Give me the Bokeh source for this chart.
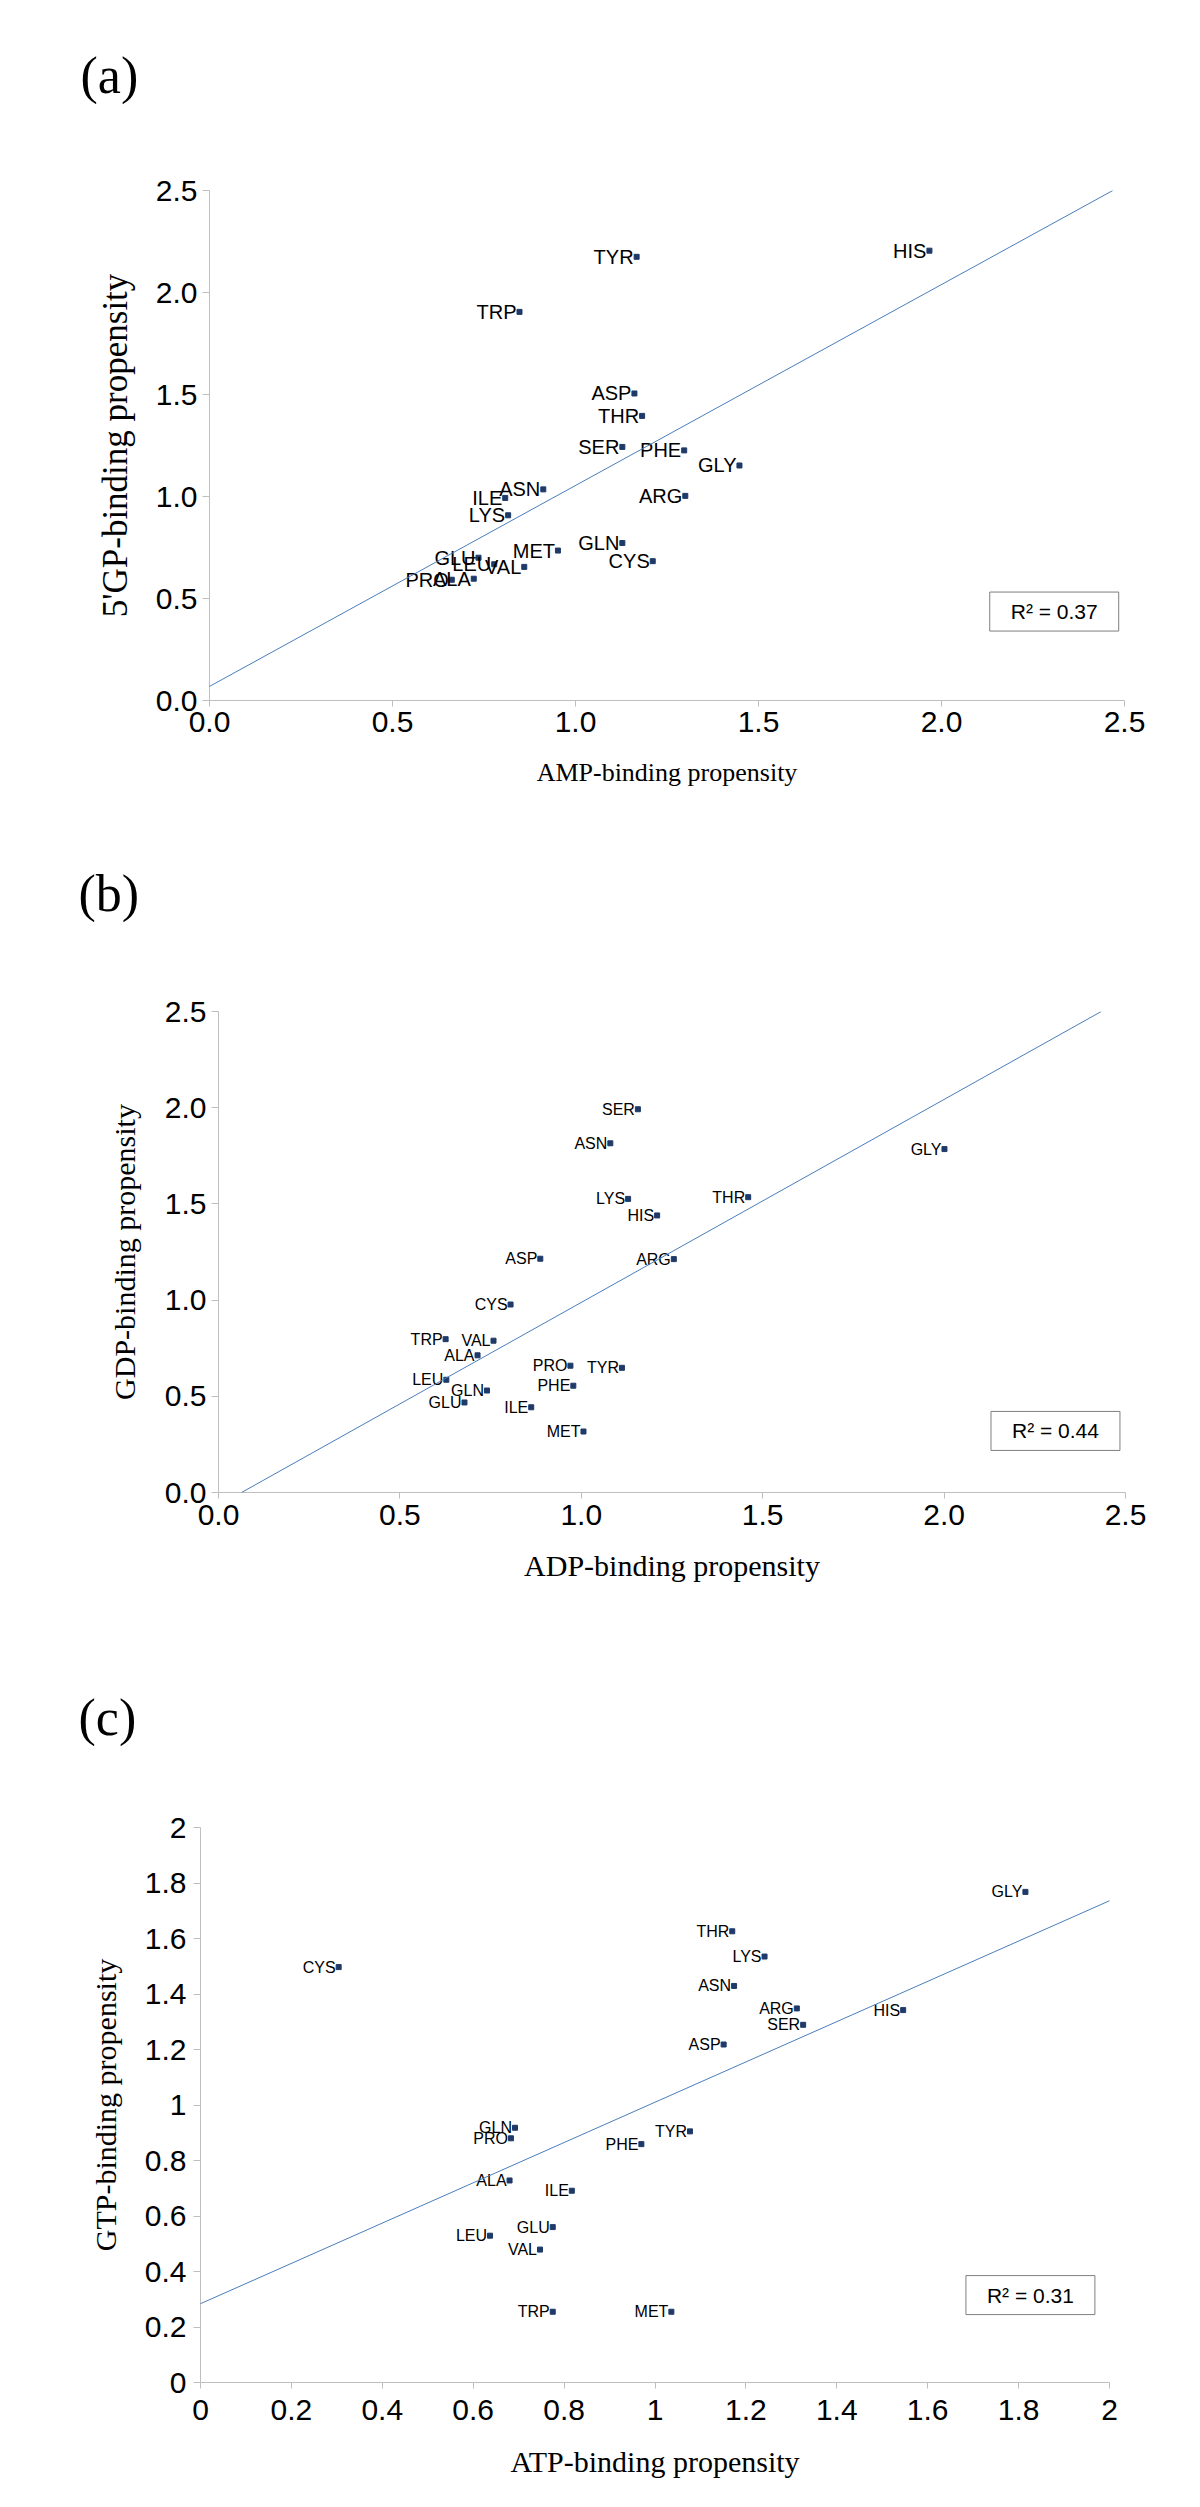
from bokeh.plotting import figure
from bokeh.layouts import column
from bokeh.models import Label, Slope, FixedTicker, NumeralTickFormatter, ColumnDataSource, Range1d
from bokeh.core.properties import value
from bokeh.embed import file_html
from bokeh.resources import INLINE

# ---------------- data ----------------
amino = ["ALA", "ARG", "ASN", "ASP", "CYS", "GLN", "GLU", "GLY", "HIS", "ILE",
         "LEU", "LYS", "MET", "PHE", "PRO", "SER", "THR", "TRP", "TYR", "VAL"]

# (a) AMP vs 5'GP
amp = [0.722, 1.300, 0.912, 1.161, 1.211, 1.128, 0.735, 1.448, 1.967, 0.808,
       0.778, 0.816, 0.952, 1.297, 0.662, 1.128, 1.182, 0.847, 1.167, 0.860]
gp5 = [0.597, 1.003, 1.035, 1.505, 0.683, 0.772, 0.700, 1.152, 2.205, 0.993,
       0.668, 0.908, 0.735, 1.226, 0.592, 1.243, 1.395, 1.905, 2.175, 0.655]

# (b) ADP vs GDP
adp = [0.714, 1.255, 1.080, 0.887, 0.805, 0.740, 0.678, 2.001, 1.209, 0.862,
       0.628, 1.129, 1.006, 0.978, 0.970, 1.156, 1.460, 0.626, 1.112, 0.758]
gdp = [0.713, 1.213, 1.815, 1.215, 0.977, 0.530, 0.468, 1.785, 1.440, 0.443,
       0.586, 1.526, 0.317, 0.555, 0.659, 1.992, 1.535, 0.797, 0.648, 0.789]

# (c) ATP vs GTP
atp = [0.680, 1.312, 1.174, 1.151, 0.304, 0.692, 0.775, 1.815, 1.546, 0.817,
       0.637, 1.241, 1.036, 0.970, 0.683, 1.326, 1.170, 0.775, 1.077, 0.747]
gtp = [0.728, 1.348, 1.429, 1.218, 1.497, 0.918, 0.560, 1.768, 1.342, 0.691,
       0.529, 1.535, 0.255, 0.859, 0.880, 1.289, 1.626, 0.255, 0.905, 0.479]

# trend lines (slope, intercept) and R² as printed
trend_a = (0.985, 0.069)
trend_b = (1.055, -0.067)
trend_c = (0.726, 0.284)
r2_a = "R² = 0.37"
r2_b = "R² = 0.44"
r2_c = "R² = 0.31"

ticks_ab = [0.0, 0.5, 1.0, 1.5, 2.0, 2.5]
ticks_c = [0, 0.2, 0.4, 0.6, 0.8, 1.0, 1.2, 1.4, 1.6, 1.8, 2.0]

MARK = "#1F3A68"
LINE = "#4A7EBB"
AXIS = "#BFBFBF"


def header(tag, h, tx, ty):
    p = figure(width=1184, height=h, output_backend="svg", toolbar_location=None,
               x_range=Range1d(0, 1), y_range=Range1d(0, 1), title=None,
               x_axis_type=None, y_axis_type=None, min_border=0, frame_align=False)
    p.outline_line_color = None
    p.grid.visible = False
    p.add_layout(Label(x=tx, y=ty, x_units="screen", y_units="screen", text=tag,
                       text_font="Liberation Serif", text_font_size="52px",
                       text_baseline="alphabetic", text_align="left", text_color="black"))
    return p


def panel(x, y, xlab, ylab, r2, trend, ticks, xmax, fmt, cfg):
    p = figure(frame_width=cfg["fw"], frame_height=cfg["fh"], output_backend="svg",
               toolbar_location=None, title=None, frame_align=False,
               x_range=Range1d(0, xmax), y_range=Range1d(0, xmax),
               min_border_left=cfg["bl"], min_border_right=cfg["br"],
               min_border_top=cfg["bt"], min_border_bottom=cfg["bb"])
    p.outline_line_color = None
    p.grid.visible = False
    p.background_fill_color = "white"
    p.border_fill_color = "white"

    for ax, tout, lstand, tstand, tsize in (
        (p.xaxis[0], 6, cfg["xls"], cfg["xts"], cfg["xtf"]),
        (p.yaxis[0], 7, cfg["yls"], cfg["yts"], cfg["ytf"]),
    ):
        ax.ticker = FixedTicker(ticks=ticks)
        ax.formatter = NumeralTickFormatter(format=fmt)
        ax.axis_line_color = AXIS
        ax.major_tick_line_color = AXIS
        ax.major_tick_out = tout
        ax.major_tick_in = 0
        ax.minor_tick_line_color = None
        ax.major_label_text_font = "Liberation Sans"
        ax.major_label_text_font_size = "30px"
        ax.major_label_text_color = "black"
        ax.major_label_standoff = lstand
        ax.axis_label_text_font = "Liberation Serif"
        ax.axis_label_text_font_style = "normal"
        ax.axis_label_text_font_size = tsize
        ax.axis_label_text_color = "black"
        ax.axis_label_standoff = tstand
    p.xaxis.axis_label = xlab
    p.yaxis.axis_label = ylab

    p.add_layout(Slope(gradient=trend[0], y_intercept=trend[1],
                       line_color=LINE, line_width=1))

    src = ColumnDataSource(dict(x=x, y=y, name=amino))
    p.scatter("x", "y", source=src, marker="square", size=5,
              fill_color=MARK, line_color=MARK)
    p.text("x", "y", text="name", source=src, x_offset=-3,
           text_align="right", text_baseline="middle",
           text_font=value("Liberation Sans"), text_font_size=value(cfg["lf"]),
           text_color="black")

    p.add_layout(Label(x=cfg["rx"], y=cfg["ry"],
                       text=r2, text_font="Liberation Sans", text_font_size="21px",
                       text_align="center", text_baseline="middle", text_color="black",
                       border_line_color="#7F7F7F", border_line_width=1,
                       background_fill_color="white", padding=(21, 8)))
    return p


cfg_a = dict(fw=915, fh=510, bl=209, br=67, bt=40, bb=120,
             xls=5, xts=23, xtf="26px", yls=5, yts=18, ytf="35px", lf="20px",
             rx=2.308, ry=0.436)
cfg_b = dict(fw=907, fh=481, bl=218, br=66, bt=41, bb=157,
             xls=6, xts=21, xtf="30px", yls=5, yts=21, ytf="30px", lf="16px",
             rx=2.307, ry=0.32)
cfg_c = dict(fw=909, fh=555, bl=200, br=82, bt=38, bb=108,
             xls=11, xts=22, xtf="30px", yls=7, yts=20, ytf="30px", lf="16px",
             rx=1.826, ry=0.315)

ha = header("(a)", 150, 80, 75)
pa = panel(amp, gp5, "AMP-binding propensity", "5'GP-binding propensity", r2_a,
           trend_a, ticks_ab, 2.5, "0.0", cfg_a)
hb = header("(b)", 150, 78, 77)
pb = panel(adp, gdp, "ADP-binding propensity", "GDP-binding propensity", r2_b,
           trend_b, ticks_ab, 2.5, "0.0", cfg_b)
hc = header("(c)", 140, 78, 72)
pc = panel(atp, gtp, "ATP-binding propensity", "GTP-binding propensity", r2_c,
           trend_c, ticks_c, 2.0, "0.[0]", cfg_c)

layout = column(ha, pa, hb, pb, hc, pc, spacing=0)
open("out.html", "w").write(file_html(layout, INLINE))
